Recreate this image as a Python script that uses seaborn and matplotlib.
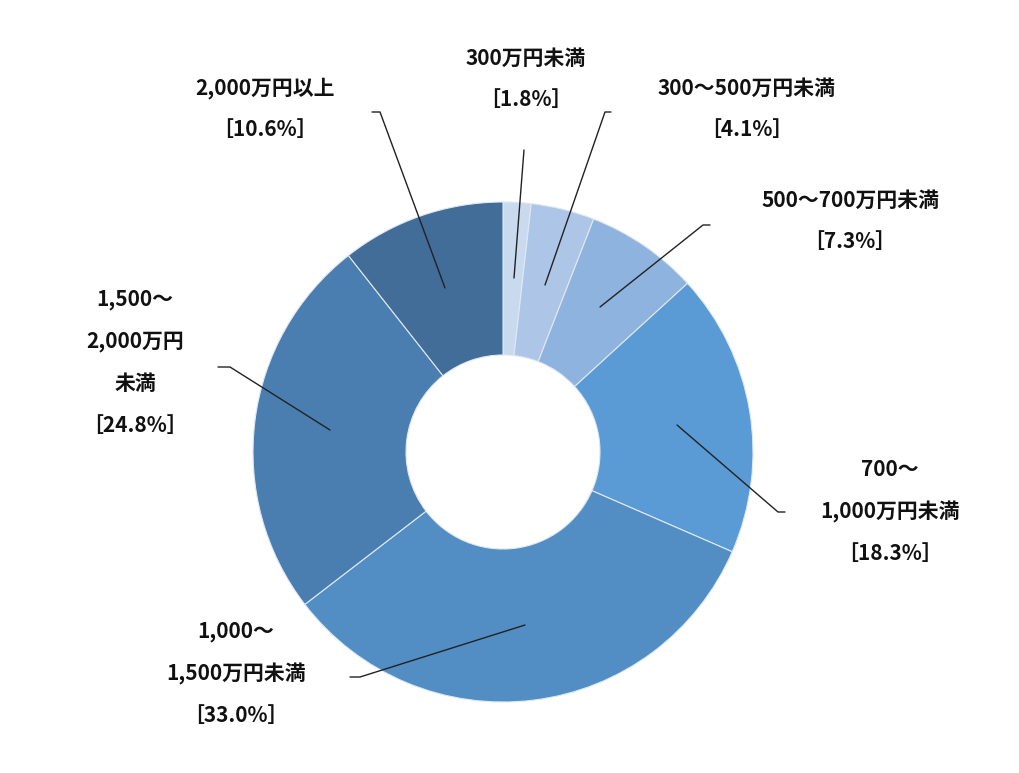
import matplotlib
matplotlib.use("Agg")
import matplotlib.pyplot as plt
import seaborn as sns

sns.set_theme(style="white")
plt.rcParams["font.family"] = ["Noto Sans CJK JP", "DejaVu Sans"]

# data
categories = ["300万円未満", "300～500万円未満", "500～700万円未満", "700～1,000万円未満",
              "1,000～1,500万円未満", "1,500～2,000万円未満", "2,000万円以上"]
shares = [1.8, 4.1, 7.3, 18.3, 33.0, 24.8, 10.6]
colors = ["#c9d9ee", "#adc6e8", "#8db3de", "#5b9bd5", "#528ec4", "#4a7eb0", "#416d98"]

# label text lines, label anchor (px), leader line points (px)
labels = [
    (["300万円未満", "［1.8%］"], (526, 58), [(514, 278), (524, 150)]),
    (["300～500万円未満", "［4.1%］"], (747, 88), [(545, 285), (605, 112), (611, 112)]),
    (["500～700万円未満", "［7.3%］"], (850, 200), [(600, 307), (703, 225), (710, 225)]),
    (["700～", "1,000万円未満", "［18.3%］"], (890, 470), [(677, 425), (778, 512), (785, 512)]),
    (["1,000～", "1,500万円未満", "［33.0%］"], (236, 632), [(525, 625), (360, 677), (350, 677)]),
    (["1,500～", "2,000万円", "未満", "［24.8%］"], (135, 300), [(330, 430), (230, 367), (218, 367)]),
    (["2,000万円以上", "［10.6%］"], (265, 88), [(445, 288), (380, 112), (372, 112)]),
]

W, H = 1020, 773
fig = plt.figure(figsize=(W / 100, H / 100), dpi=100)
ax = fig.add_axes([0, 0, 1, 1])

ax.pie(shares, colors=colors, startangle=90, counterclock=False,
       center=(503, H - 452), radius=250,
       wedgeprops=dict(width=153, edgecolor="#dfe8f3", linewidth=0.8))

# pie resets limits, so set them afterwards
ax.set_xlim(0, W)
ax.set_ylim(0, H)
ax.set_aspect("equal")
ax.axis("off")

for lines, (lx, ly), pts in labels:
    for i, t in enumerate(lines):
        ax.text(lx, H - (ly + i * 42), t, ha="center", va="center",
                fontsize=15, fontweight="bold", color="#111111")
    ax.plot([p[0] for p in pts], [H - p[1] for p in pts], color="#222222", lw=1)

fig.savefig("out.png", dpi=100, facecolor="white")
